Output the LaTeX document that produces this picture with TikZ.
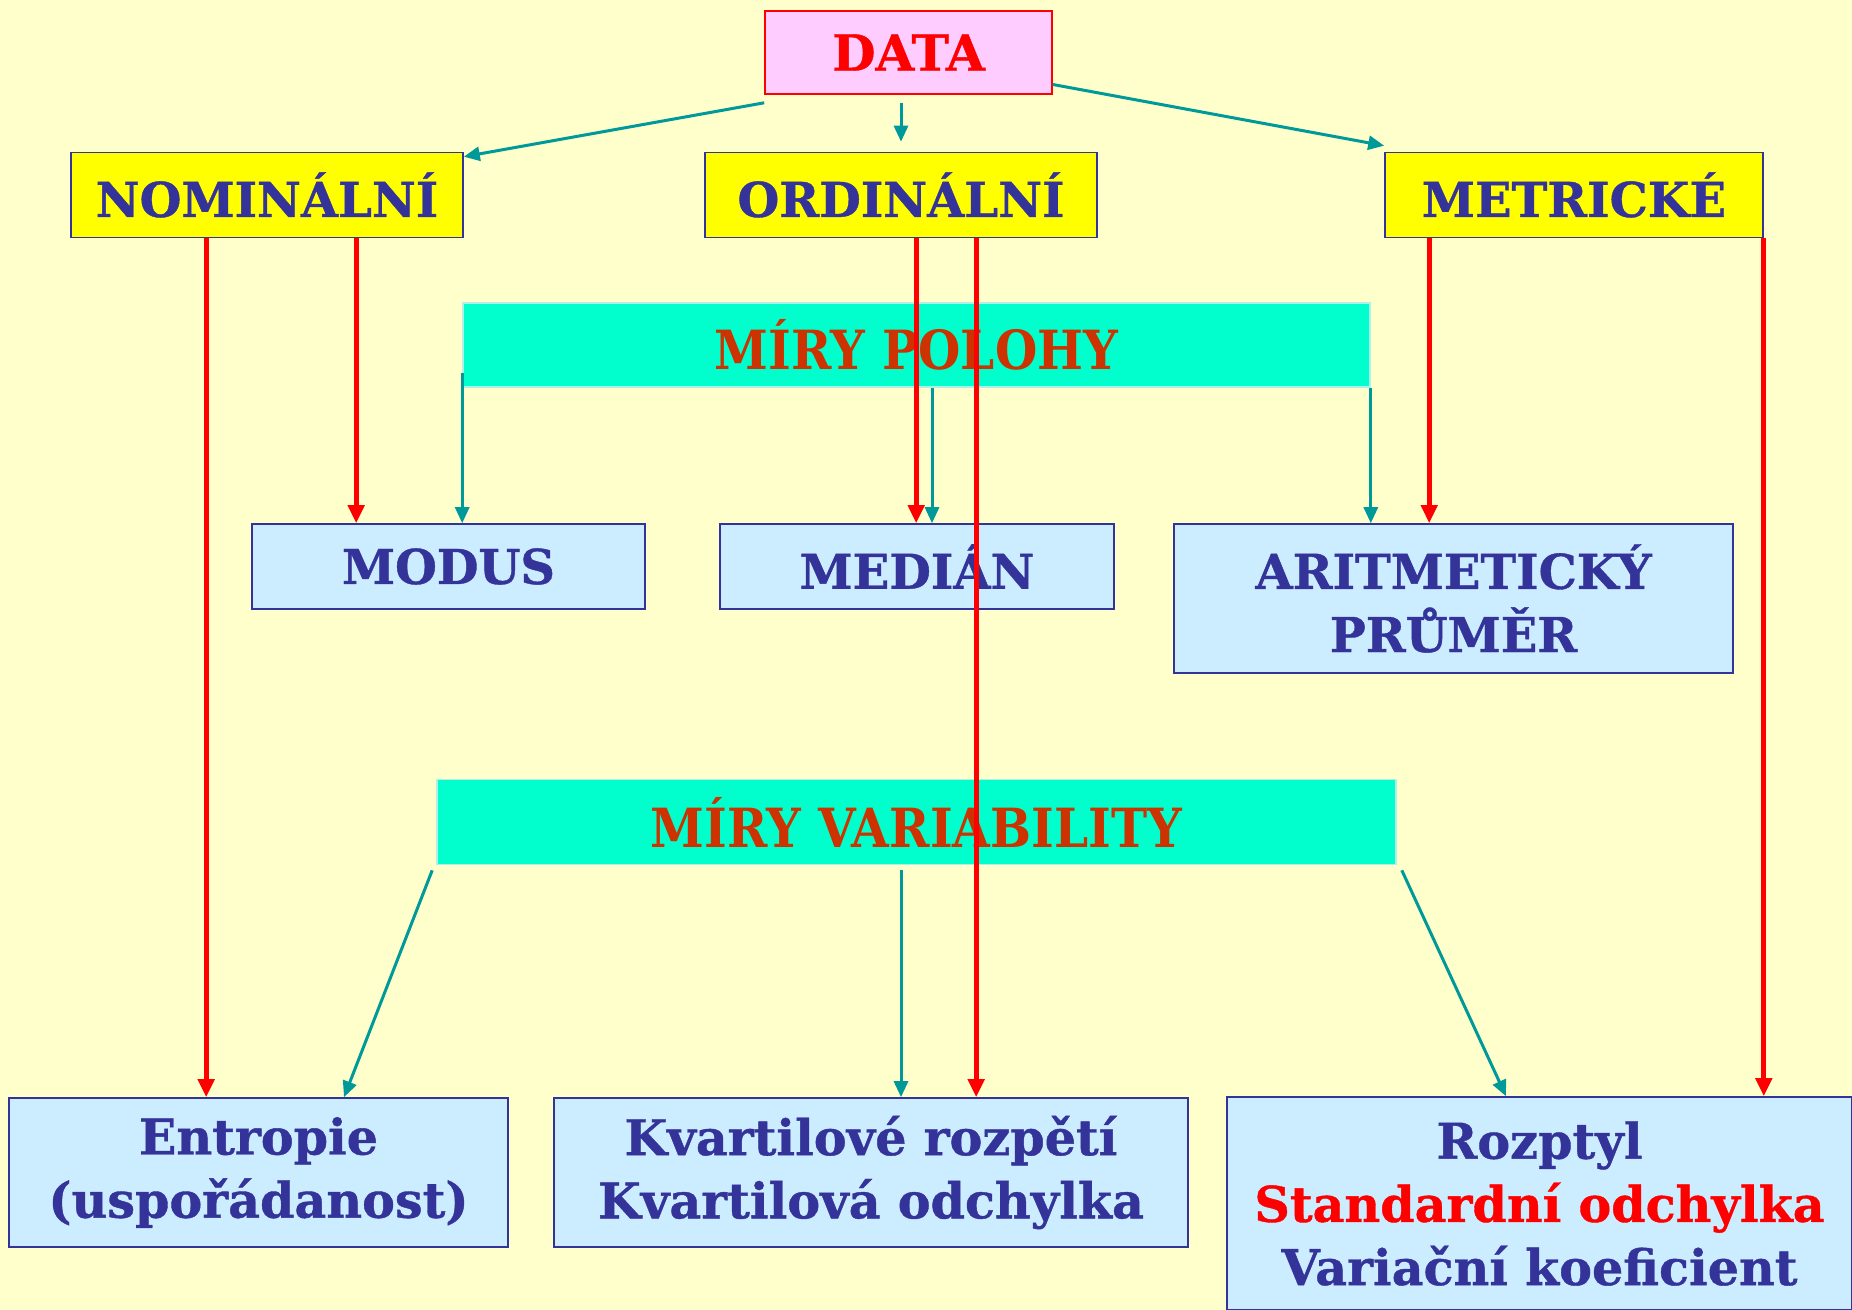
\documentclass[tikz,border=0pt]{standalone}
\usepackage{fontspec}
\setmainfont{DejaVu Serif}[BoldFeatures={FakeBold=0.8}]
\newfontfamily\condfont[FakeStretch=0.9]{DejaVu Serif}
\usetikzlibrary{arrows.meta,calc}
\definecolor{bgyel}{HTML}{FFFFCC}
\definecolor{navy}{HTML}{333399}
\definecolor{datafill}{HTML}{FFCCFF}
\definecolor{yelbox}{HTML}{FFFF00}
\definecolor{bluebox}{HTML}{CCECFF}
\definecolor{mintbox}{HTML}{00FFCC}
\definecolor{mintedge}{HTML}{B0F0E8}
\definecolor{miryred}{HTML}{CC3300}
\definecolor{tealc}{HTML}{009999}
\definecolor{redc}{HTML}{FF0000}
\tikzset{
  base/.style={inner sep=0pt, font=\bfseries\fontsize{24}{31.6}\selectfont, align=center, line width=0.8pt},
  lower/.style={font=\bfseries\fontsize{24.6}{31.6}\selectfont},
  databox/.style={base, fill=datafill, draw=redc, text=redc, font=\bfseries\fontsize{25}{30}\selectfont},
  typebox/.style={base, fill=yelbox, draw=navy, text=navy},
  resbox/.style={base, fill=bluebox, draw=navy, text=navy},
  mirybox/.style={base, fill=mintbox, draw=mintedge, text=miryred, font=\condfont\bfseries\fontsize{27}{30}\selectfont},
  tealarrow/.style={draw=tealc, line width=1.5pt, -{Triangle[length=8pt,width=7pt]}},
  redarrow/.style={draw=redc, line width=2.5pt, -{Triangle[length=9pt,width=8pt]}}
}
\begin{document}
\begin{tikzpicture}[x=0.5pt,y=-0.5pt]
\fill[bgyel] (0,0) rectangle (1852,1310);
\useasboundingbox (0,0) rectangle (1852,1310);

\node[databox, minimum width=143.5pt, minimum height=41.5pt] (data) at (908.5,52.5) {DATA};
\node[typebox, minimum width=196pt, minimum height=42.5pt] (nom) at (267,195) {NOMINÁLNÍ};
\node[typebox, minimum width=196pt, minimum height=42.5pt] (ord) at (901,195) {ORDINÁLNÍ};
\node[typebox, minimum width=189pt, minimum height=42.5pt] (met) at (1574,195) {METRICKÉ};

\node[mirybox, minimum width=453.5pt, minimum height=42pt] (poloh) at (916.5,345) {MÍRY POLOHY};

\node[resbox, minimum width=196.5pt, minimum height=42.5pt] (modus) at (448.5,566.5) {MODUS};
\node[resbox, minimum width=197pt, minimum height=42.5pt] (median) at (917,566.5) {MEDIÁN};
\node[resbox, minimum width=279.5pt, minimum height=74.5pt] (arit) at (1453.5,598.5) {ARITMETICKÝ\\PRŮMĚR};

\node[mirybox, minimum width=479.5pt, minimum height=42.5pt] (var) at (916.5,822) {MÍRY VARIABILITY};

\node[resbox, lower, minimum width=249.5pt, minimum height=74.5pt] (entr) at (258.5,1172.5) {Entropie\\(uspořádanost)};
\node[resbox, lower, minimum width=317pt, minimum height=74.5pt] (kvart) at (871,1172.5) {Kvartilové rozpětí\\Kvartilová odchylka};
\node[resbox, lower, minimum width=312.5pt, minimum height=106.5pt] (rozp) at (1539.5,1203.5) {Rozptyl\\\textcolor{redc}{Standardní odchylka}\\Variační koeficient};

% teal connectors from DATA
\draw[tealarrow] ([yshift=-4pt]data.south west) -- ([yshift=-2.5pt]nom.north east);
\draw[tealarrow] ([xshift=-3.75pt,yshift=-4pt]data.south) -- ([xshift=-3.75pt,yshift=5pt]data.south |- ord.north);
\draw[tealarrow] ([yshift=-16pt]data.east) -- ([yshift=3pt]met.north west);

% teal connectors from MIRY POLOHY
\coordinate (p1) at ([yshift=-14pt]poloh.west);
\draw[tealarrow] (p1) -- (p1 |- modus.north);
\coordinate (p2) at ([xshift=7.75pt]poloh.south);
\draw[tealarrow] (p2) -- (p2 |- median.north);
\coordinate (p3) at (poloh.south east);
\draw[tealarrow] (p3) -- (p3 |- arit.north);

% teal connectors from MIRY VARIABILITY
\draw[tealarrow] ([xshift=-2pt,yshift=-2.5pt]var.south west) -- ([xshift=42.75pt]entr.north);
\coordinate (v2) at ([xshift=-7.75pt,yshift=-2.5pt]var.south);
\draw[tealarrow] (v2) -- (v2 |- kvart.north);
\draw[tealarrow] ([xshift=2.5pt,yshift=-2.5pt]var.south east) -- ([xshift=-16.75pt]rozp.north);

% red connectors
\coordinate (n1) at ([xshift=68pt]nom.south west);
\draw[redarrow] (n1) -- (n1 |- entr.north);
\coordinate (n2) at ([xshift=143pt]nom.south west);
\draw[redarrow] (n2) -- (n2 |- modus.north);
\coordinate (o1) at ([xshift=106pt]ord.south west);
\draw[redarrow] (o1) -- (o1 |- median.north);
\coordinate (o2) at ([xshift=136pt]ord.south west);
\draw[redarrow] (o2) -- (o2 |- kvart.north);
\coordinate (m1) at ([xshift=22.5pt]met.south west);
\draw[redarrow] (m1) -- (m1 |- arit.north);
\coordinate (m2) at (met.south east);
\draw[redarrow] (m2) -- (m2 |- rozp.north);
\end{tikzpicture}
\end{document}
